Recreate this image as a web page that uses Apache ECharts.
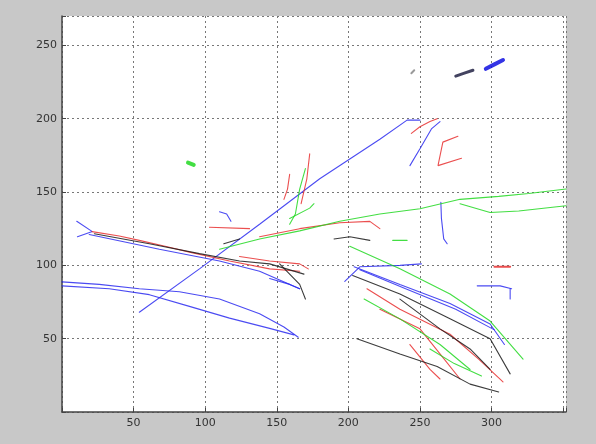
<!DOCTYPE html>
<html>
<head>
<meta charset="utf-8">
<script src="https://cdn.jsdelivr.net/npm/echarts@6/dist/echarts.min.js"></script>
<style>
  html, body { margin: 0; padding: 0; background: #c8c8c8; }
  #chart { width: 596px; height: 444px; }
</style>
</head>
<body>
<div id="chart"></div>
<script>
// tick values on both axes
var xTicks = [50, 100, 150, 200, 250, 300];
var yTicks = [50, 100, 150, 200, 250];

// trajectories, grouped by the colour they are drawn in ([x, y] points)
var blueTracks = [
    [[10.3, 130], [21.2, 123], [10.8, 119.5]],
    [[19, 121], [68, 111], [110, 103], [138, 96], [166, 84]],
    [[0, 88.7], [26, 87], [54, 84], [82, 82], [110, 77], [138, 67], [155, 58], [165, 51]],
    [[0, 86], [33, 84], [61, 80], [89, 72], [117, 64], [145, 57], [162, 52.6]],
    [[54, 68], [96, 97.6], [138, 128], [180, 159], [222, 186], [241, 199], [250, 199]],
    [[110, 136.5], [115, 135], [118, 130]],
    [[145, 91], [159, 87], [166, 84]],
    [[243, 168], [250, 179.5], [258, 193], [264, 198]],
    [[264.6, 143], [265, 132], [266.6, 118], [269, 114.7]],
    [[290, 86], [306, 86], [314, 84]],
    [[313, 84], [313, 77]],
    [[197.5, 89], [208, 99], [236, 100], [251, 101]],
    [[204, 99], [236, 87], [271, 74], [299, 60], [309, 46]],
    [[208, 97], [240, 84], [275, 70], [302, 56]]
];
var redTracks = [
    [[21, 123], [40, 120], [54, 117], [72, 113], [89, 109], [117, 103], [145, 97.6], [166, 96]],
    [[124, 106], [145, 103], [166, 101], [172, 97.6]],
    [[159, 162], [157.5, 152], [155, 145]],
    [[173, 176], [171, 159], [167, 142]],
    [[138, 119.5], [166, 125], [194, 129], [215, 130], [222, 125]],
    [[103, 126], [131, 125]],
    [[244, 190], [250, 194.5], [257, 198], [262, 200]],
    [[276.5, 188], [266, 184], [262.6, 168], [279, 173]],
    [[213, 84], [236, 70], [271, 53], [291, 36], [308, 20.5]],
    [[222, 70], [250, 56.7], [264, 39.6], [278, 22.5]],
    [[243, 46], [257, 29], [264, 22.5]]
];
var greenTracks = [
    [[170, 166], [166, 152], [163, 135], [159, 128]],
    [[159, 132], [173, 139], [176, 142]],
    [[110, 111], [138, 118], [166, 123.5], [194, 130], [222, 135], [250, 138.6], [278, 145], [305, 147], [326, 149], [352, 152]],
    [[278, 142], [299, 136], [319, 137], [352, 140.6]],
    [[231, 117], [241, 117]],
    [[201, 113], [236, 97.6], [271, 80.5], [299, 62], [322, 36]],
    [[211, 77], [236, 63.5], [264, 46], [285, 29]],
    [[257, 43], [274, 33], [293, 24.6]]
];
var blackTracks = [
    [[22.6, 121.5], [61, 114.7], [96, 108], [124, 103], [145, 101], [169, 94]],
    [[113, 114.7], [124, 118]],
    [[190, 118], [201, 119.5], [215, 117]],
    [[203, 93], [236, 80.5], [271, 63.5], [299, 50], [313, 26]],
    [[206, 50], [236, 39.6], [262, 31], [285, 19], [305, 13.7]],
    [[236, 77], [264, 56.7], [285, 43], [299, 29]],
    [[152, 101], [166, 87], [170, 77]]
];
var grayTracks = [
    [[244, 231], [246, 233]]
];
// small dense patches (drawn thick)
var blueBlobs = [
    [[296, 234], [302, 237], [308, 240]]
];
var blackBlobs = [
    [[275, 229], [281, 231], [287, 233]]
];
var greenBlobs = [
    [[88, 170], [92, 168.5]]
];
var redBlobs = [
    [[302, 99], [313, 99]]
];

var chart = echarts.init(document.getElementById('chart'));

var series = [];
var addTracks = function (tracks, color, width) {
    tracks.forEach(function (pts) {
        series.push({
            type: 'line',
            data: pts,
            showSymbol: false,
            silent: true,
            animation: false,
            lineStyle: { color: color, width: width, opacity: 0.85, cap: 'round' }
        });
    });
};
addTracks(blueTracks, '#2b2bf0', 1.1);
addTracks(redTracks, '#e83030', 1.1);
addTracks(greenTracks, '#22d822', 1.1);
addTracks(blackTracks, '#1a1a1a', 1.1);
addTracks(grayTracks, '#888888', 2);
addTracks(blueBlobs, '#1010e0', 4);
addTracks(blackBlobs, '#222244', 3);
addTracks(greenBlobs, '#22d822', 4);
addTracks(redBlobs, '#e83030', 2);

var axisLabelFmt = function (list) {
    return function (v) { return list.indexOf(v) >= 0 ? String(v) : ''; };
};

chart.setOption({
    backgroundColor: '#c8c8c8',
    animation: false,
    grid: {
        left: 62, right: 30, top: 16, bottom: 32,
        show: true, backgroundColor: '#ffffff', borderWidth: 0
    },
    xAxis: {
        type: 'value', min: 0, max: 352, interval: 50,
        axisLine: { show: true, lineStyle: { color: '#444', width: 1.5 } },
        axisTick: { inside: true, length: 4, lineStyle: { color: '#444' } },
        axisLabel: { color: '#333', fontSize: 11, fontFamily: 'DejaVu Sans', margin: 6, formatter: axisLabelFmt(xTicks) },
        splitLine: { show: true, lineStyle: { color: '#777', type: [2, 3], width: 1 } }
    },
    yAxis: {
        type: 'value', min: 0, max: 270, interval: 50,
        axisLine: { show: true, lineStyle: { color: '#444', width: 1.5 } },
        axisTick: { inside: true, length: 4, lineStyle: { color: '#444' } },
        axisLabel: { color: '#333', fontSize: 11, fontFamily: 'DejaVu Sans', margin: 5, formatter: axisLabelFmt(yTicks) },
        splitLine: { show: true, lineStyle: { color: '#777', type: [2, 3], width: 1 } }
    },
    series: series
});
</script>
</body>
</html>
